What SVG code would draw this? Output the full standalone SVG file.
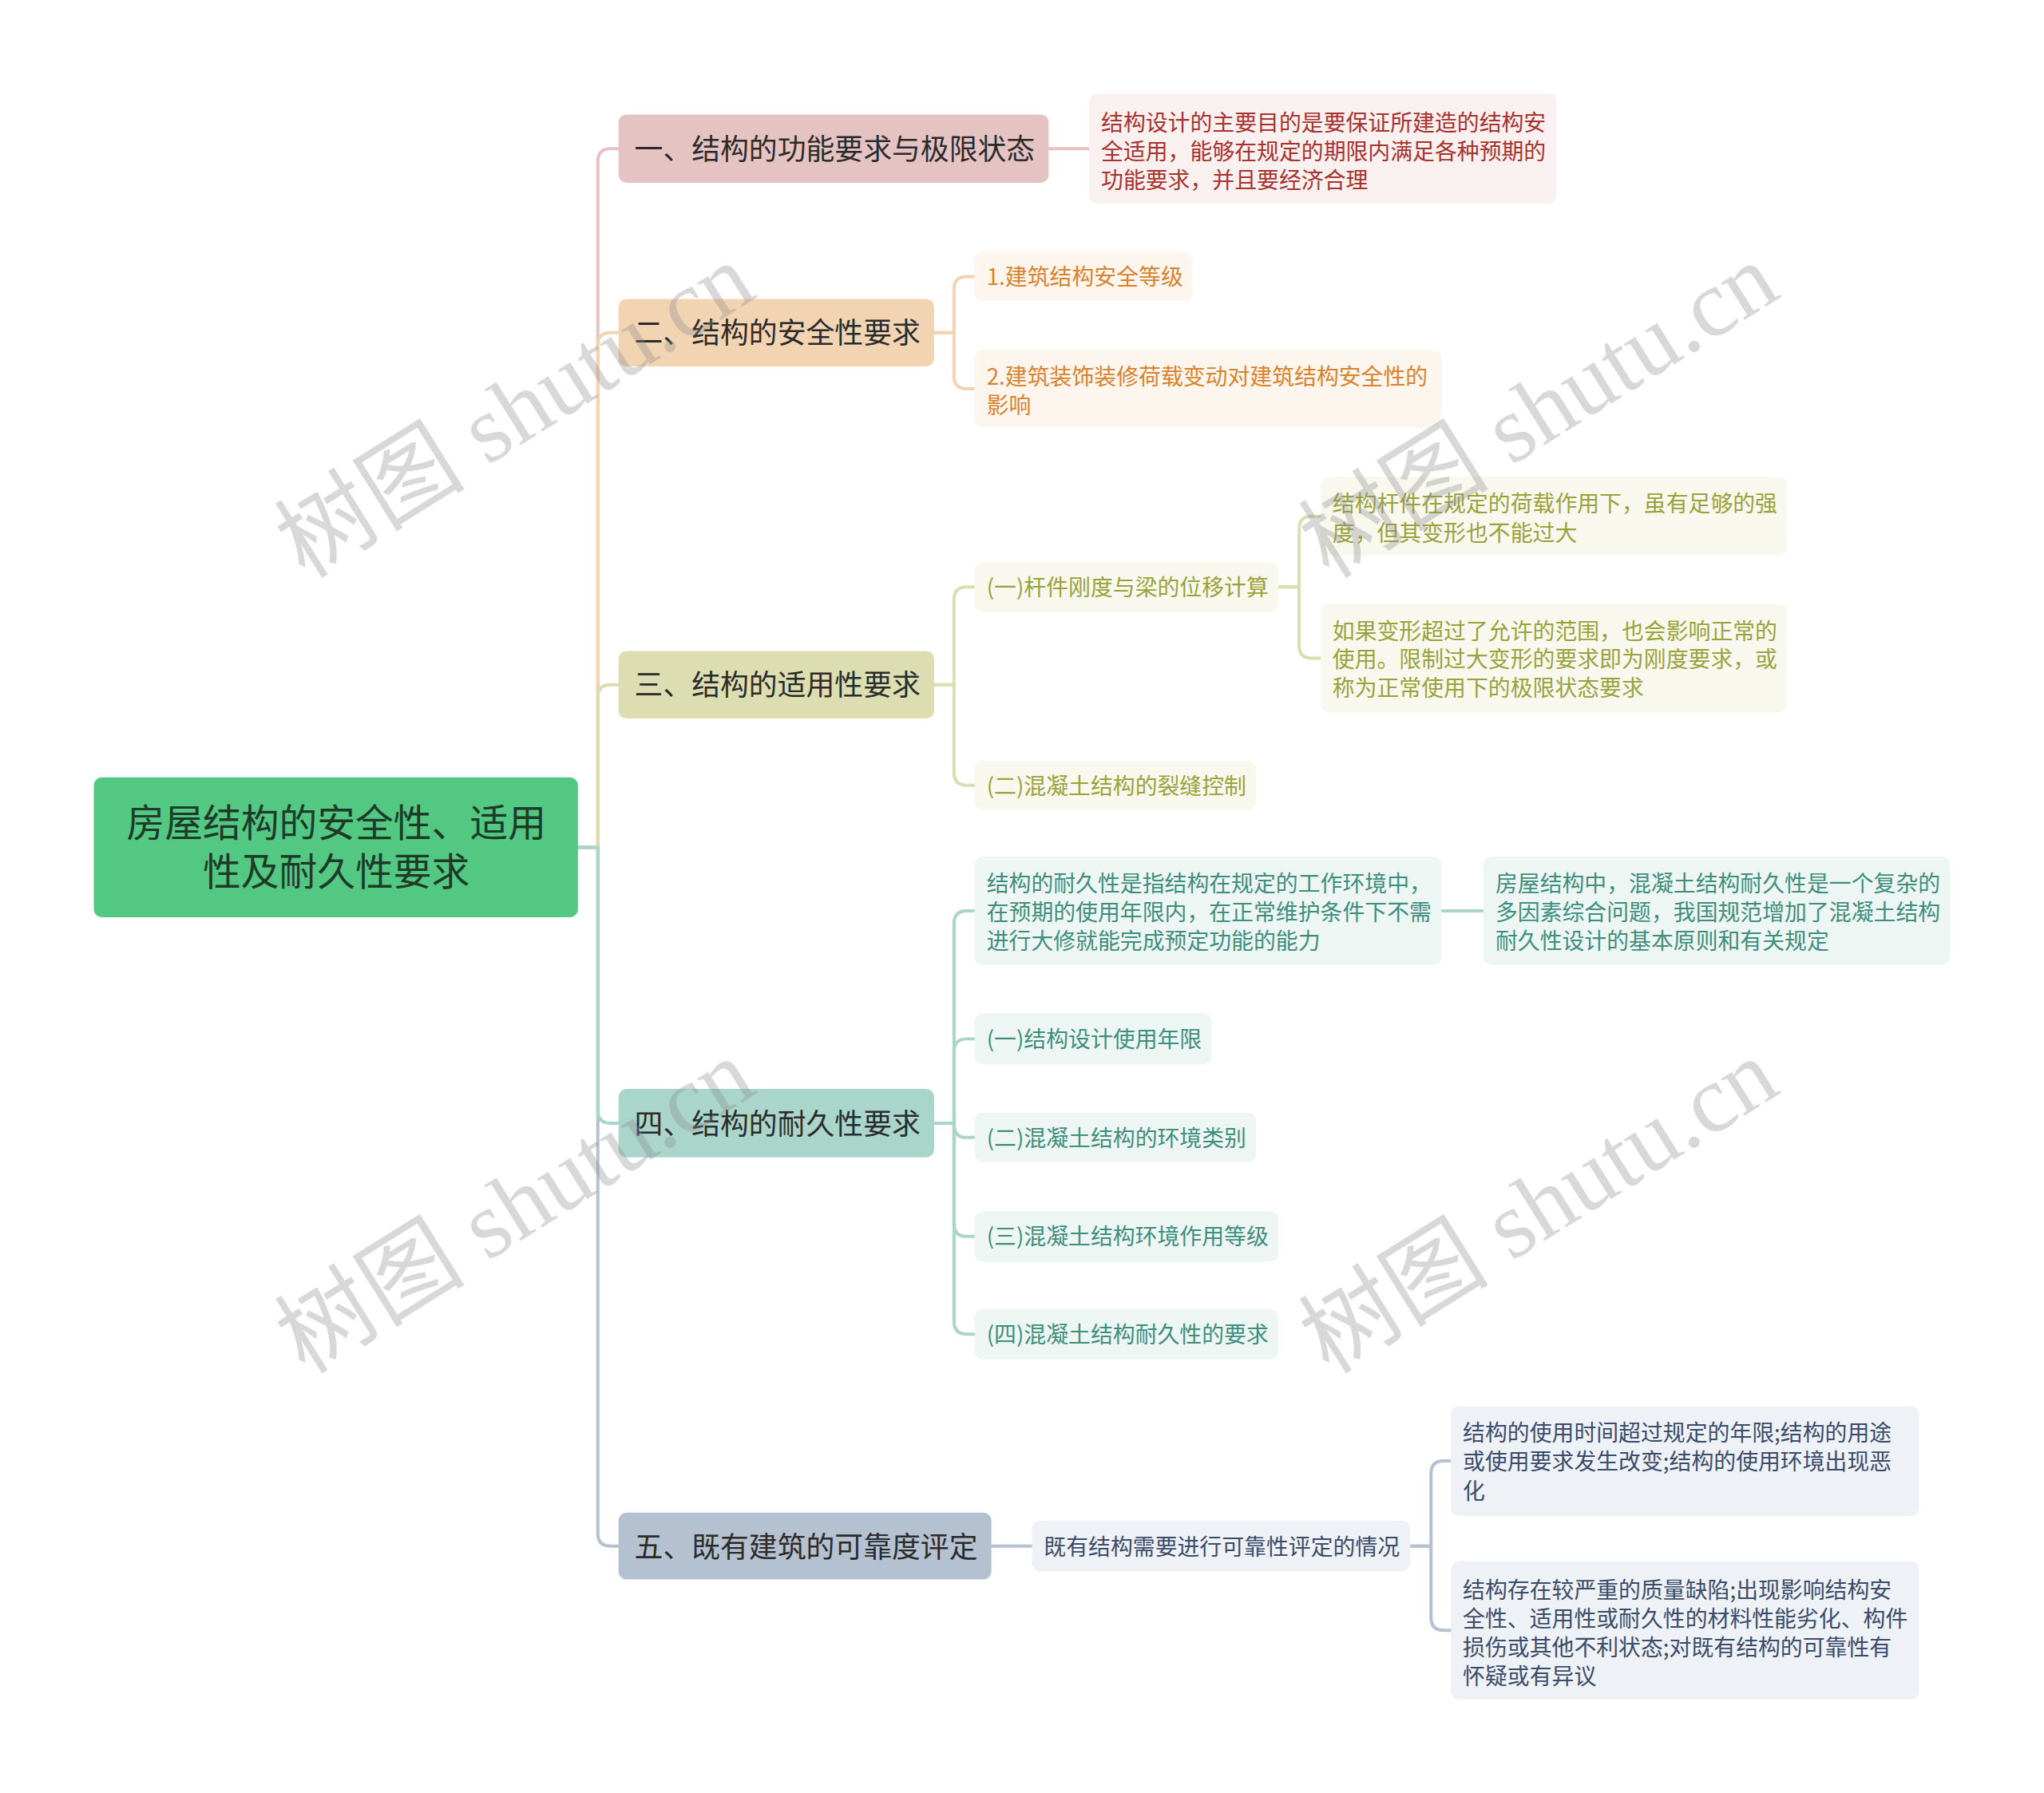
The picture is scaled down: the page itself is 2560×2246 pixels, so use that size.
<svg xmlns="http://www.w3.org/2000/svg" width="2560" height="2246" viewBox="0 0 2560 2246">
<style>
text{font-family:"Noto Sans CJK SC","Noto Sans",sans-serif}
.root{font-size:48px;fill:#1e3a28;text-anchor:middle}
.br{font-size:36px;fill:#2b2b2b}
.lf{font-size:28px}
.c1{stroke:#E6C3C3}.c2{stroke:#F2D4B3}.c3{stroke:#DCDDB1}.c4{stroke:#A9D5CB}.c5{stroke:#B3C1D1}
.conn path{fill:none;stroke-width:4;stroke-linecap:round}
.t1{fill:#A8322D}.t2{fill:#D9822B}.t3{fill:#9AA23A}.t4{fill:#3E8E7E}.t5{fill:#3B4B6B}
.wm{font-family:"Liberation Serif","Noto Sans CJK SC",serif;font-size:120px;fill:#8a8a8a;opacity:0.33;text-anchor:middle}
</style>
<rect width="2560" height="2246" fill="#ffffff"/>
<g transform="scale(0.9957)">
<g class="conn" id="connectors">
<path class="c1" d="M727,1066 H752 V203 Q752,187 768,187 H778"/>
<path class="c2" d="M727,1066 H752 V434.5 Q752,418.5 768,418.5 H778"/>
<path class="c3" d="M727,1066 H752 V877.5 Q752,861.5 768,861.5 H778"/>
<path class="c5" d="M727,1066 H752 V1929 Q752,1945 768,1945 H778"/>
<path class="c4" d="M727,1066 H752 V1397 Q752,1413 768,1413 H778"/>
<path class="c1" d="M1319,187 H1370"/>
<path class="c2" d="M1175,418.5 H1200 V364 Q1200,348 1216,348 H1226"/>
<path class="c2" d="M1175,418.5 H1200 V473 Q1200,489 1216,489 H1226"/>
<path class="c3" d="M1175,861.5 H1200 V754.5 Q1200,738.5 1216,738.5 H1226"/>
<path class="c3" d="M1175,861.5 H1200 V972 Q1200,988 1216,988 H1226"/>
<path class="c3" d="M1608,738.5 H1634 V665.5 Q1634,649.5 1650,649.5 H1661"/>
<path class="c3" d="M1608,738.5 H1634 V812 Q1634,828 1650,828 H1661"/>
<path class="c4" d="M1175,1413 H1200 V1162 Q1200,1146 1216,1146 H1226"/>
<path class="c4" d="M1175,1413 H1200 V1323 Q1200,1307 1216,1307 H1226"/>
<path class="c4" d="M1175,1413 H1200 V1415 Q1200,1431 1216,1431 H1226"/>
<path class="c4" d="M1175,1413 H1200 V1539.5 Q1200,1555.5 1216,1555.5 H1226"/>
<path class="c4" d="M1175,1413 H1200 V1662.5 Q1200,1678.5 1216,1678.5 H1226"/>
<path class="c4" d="M1813,1146 H1866"/>
<path class="c5" d="M1247,1945 H1298"/>
<path class="c5" d="M1774,1945 H1800 V1854 Q1800,1838 1816,1838 H1825"/>
<path class="c5" d="M1774,1945 H1800 V2035 Q1800,2051 1816,2051 H1825"/>
</g>
<g id="root">
<rect x="118" y="978" width="609" height="176" rx="10" fill="#52C882"/>
<text class="root" x="423" y="1053">房屋结构的安全性、适用</text>
<text class="root" x="423" y="1114">性及耐久性要求</text>
</g>
<g id="b1">
<rect x="778" y="144" width="541" height="86" rx="10" fill="#E6C3C3"/>
<text class="br" x="798" y="201">一、结构的功能要求与极限状态</text>
</g>
<g id="b1a">
<rect x="1370" y="118" width="588" height="138" rx="10" fill="#F9F0F0"/>
<text class="lf t1" x="1385" y="165">结构设计的主要目的是要保证所建造的结构安</text>
<text class="lf t1" x="1385" y="201">全适用，能够在规定的期限内满足各种预期的</text>
<text class="lf t1" x="1385" y="237">功能要求，并且要经济合理</text>
</g>
<g id="b2">
<rect x="778" y="376" width="397" height="85" rx="10" fill="#F2D4B3"/>
<text class="br" x="798" y="432">二、结构的安全性要求</text>
</g>
<g id="b2a">
<rect x="1226" y="317" width="274" height="62" rx="10" fill="#FDF6EE"/>
<text class="lf t2" x="1241" y="359">1.建筑结构安全等级</text>
</g>
<g id="b2b">
<rect x="1226" y="440" width="587" height="98" rx="10" fill="#FDF6EE"/>
<text class="lf t2" x="1241" y="484">2.建筑装饰装修荷载变动对建筑结构安全性的</text>
<text class="lf t2" x="1241" y="520">影响</text>
</g>
<g id="b3">
<rect x="778" y="819" width="397" height="85" rx="10" fill="#DCDDB1"/>
<text class="br" x="798" y="875">三、结构的适用性要求</text>
</g>
<g id="b3a">
<rect x="1226" y="707" width="382" height="63" rx="10" fill="#F8F8EF"/>
<text class="lf t3" x="1241" y="749">(一)杆件刚度与梁的位移计算</text>
</g>
<g id="b3a1">
<rect x="1661" y="600" width="587" height="99" rx="10" fill="#F8F8EF"/>
<text class="lf t3" x="1676" y="644">结构杆件在规定的荷载作用下，虽有足够的强</text>
<text class="lf t3" x="1676" y="681">度，但其变形也不能过大</text>
</g>
<g id="b3a2">
<rect x="1661" y="760" width="587" height="136" rx="10" fill="#F8F8EF"/>
<text class="lf t3" x="1676" y="804">如果变形超过了允许的范围，也会影响正常的</text>
<text class="lf t3" x="1676" y="840">使用。限制过大变形的要求即为刚度要求，或</text>
<text class="lf t3" x="1676" y="876">称为正常使用下的极限状态要求</text>
</g>
<g id="b3b">
<rect x="1226" y="957" width="354" height="62" rx="10" fill="#F8F8EF"/>
<text class="lf t3" x="1241" y="999">(二)混凝土结构的裂缝控制</text>
</g>
<g id="b4">
<rect x="778" y="1370" width="397" height="86" rx="10" fill="#A9D5CB"/>
<text class="br" x="798" y="1427">四、结构的耐久性要求</text>
</g>
<g id="b4a">
<rect x="1226" y="1078" width="587" height="136" rx="10" fill="#EEF6F4"/>
<text class="lf t4" x="1241" y="1122">结构的耐久性是指结构在规定的工作环境中，</text>
<text class="lf t4" x="1241" y="1158">在预期的使用年限内，在正常维护条件下不需</text>
<text class="lf t4" x="1241" y="1194">进行大修就能完成预定功能的能力</text>
</g>
<g id="b4a1">
<rect x="1866" y="1078" width="587" height="136" rx="10" fill="#EEF6F4"/>
<text class="lf t4" x="1881" y="1122">房屋结构中，混凝土结构耐久性是一个复杂的</text>
<text class="lf t4" x="1881" y="1158">多因素综合问题，我国规范增加了混凝土结构</text>
<text class="lf t4" x="1881" y="1194">耐久性设计的基本原则和有关规定</text>
</g>
<g id="b4b">
<rect x="1226" y="1275" width="298" height="64" rx="10" fill="#EEF6F4"/>
<text class="lf t4" x="1241" y="1318">(一)结构设计使用年限</text>
</g>
<g id="b4c">
<rect x="1226" y="1400" width="354" height="62" rx="10" fill="#EEF6F4"/>
<text class="lf t4" x="1241" y="1442">(二)混凝土结构的环境类别</text>
</g>
<g id="b4d">
<rect x="1226" y="1524" width="382" height="63" rx="10" fill="#EEF6F4"/>
<text class="lf t4" x="1241" y="1566">(三)混凝土结构环境作用等级</text>
</g>
<g id="b4e">
<rect x="1226" y="1647" width="382" height="63" rx="10" fill="#EEF6F4"/>
<text class="lf t4" x="1241" y="1689">(四)混凝土结构耐久性的要求</text>
</g>
<g id="b5">
<rect x="778" y="1903" width="469" height="84" rx="10" fill="#B3C1D1"/>
<text class="br" x="798" y="1959">五、既有建筑的可靠度评定</text>
</g>
<g id="b5a">
<rect x="1298" y="1913" width="476" height="64" rx="10" fill="#EEF2F6"/>
<text class="lf t5" x="1313" y="1956">既有结构需要进行可靠性评定的情况</text>
</g>
<g id="b5a1">
<rect x="1825" y="1769" width="589" height="138" rx="10" fill="#EEF2F6"/>
<text class="lf t5" x="1840" y="1813">结构的使用时间超过规定的年限;结构的用途</text>
<text class="lf t5" x="1840" y="1849">或使用要求发生改变;结构的使用环境出现恶</text>
<text class="lf t5" x="1840" y="1886">化</text>
</g>
<g id="b5a2">
<rect x="1825" y="1964" width="589" height="174" rx="10" fill="#EEF2F6"/>
<text class="lf t5" x="1840" y="2011">结构存在较严重的质量缺陷;出现影响结构安</text>
<text class="lf t5" x="1840" y="2047">全性、适用性或耐久性的材料性能劣化、构件</text>
<text class="lf t5" x="1840" y="2083">损伤或其他不利状态;对既有结构的可靠性有</text>
<text class="lf t5" x="1840" y="2119">怀疑或有异议</text>
</g>
<g id="watermarks">
<text class="wm" transform="translate(648,517) rotate(-32)" y="40">树图 shutu.cn</text>
<text class="wm" transform="translate(1936,517) rotate(-32)" y="40">树图 shutu.cn</text>
<text class="wm" transform="translate(648,1518) rotate(-32)" y="40">树图 shutu.cn</text>
<text class="wm" transform="translate(1936,1518) rotate(-32)" y="40">树图 shutu.cn</text>
</g>
</g>
</svg>
